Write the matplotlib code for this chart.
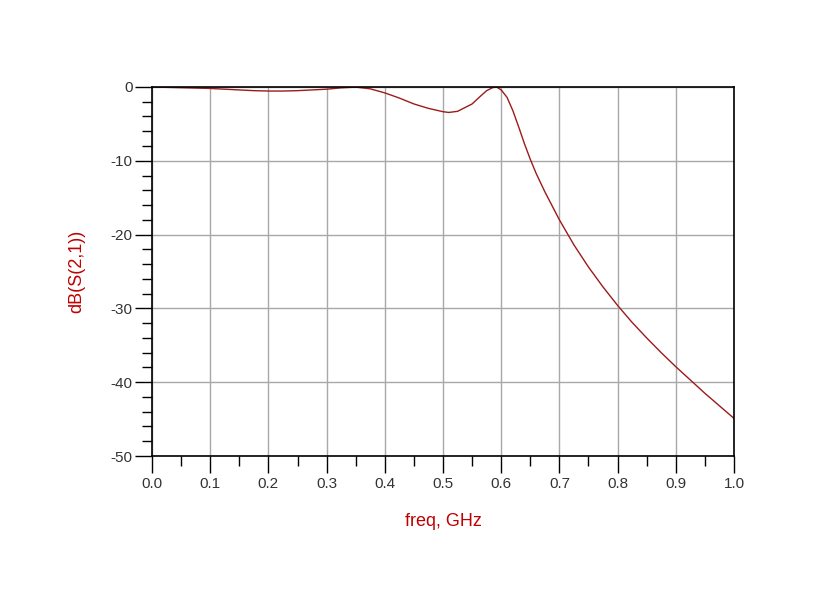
import numpy as np
import matplotlib.pyplot as plt
from matplotlib.ticker import MultipleLocator

# values
freq = [0.000, 0.025, 0.050, 0.075, 0.100, 0.125, 0.150, 0.175, 0.200, 0.225,
        0.250, 0.275, 0.300, 0.325, 0.350, 0.375, 0.400, 0.425, 0.450, 0.475,
        0.500, 0.510, 0.525, 0.550, 0.565, 0.575, 0.585, 0.592, 0.600, 0.610,
        0.620, 0.630, 0.640, 0.650, 0.660, 0.675, 0.700, 0.725, 0.750, 0.775,
        0.800, 0.825, 0.850, 0.875, 0.900, 0.925, 0.950, 0.975, 1.000]
s21_db = [0.0, -0.05, -0.1, -0.15, -0.2, -0.3, -0.4, -0.5, -0.55, -0.55,
          -0.5, -0.4, -0.3, -0.12, -0.02, -0.25, -0.8, -1.5, -2.3, -2.9,
          -3.35, -3.45, -3.3, -2.3, -1.2, -0.5, -0.1, 0.0, -0.4, -1.4,
          -3.2, -5.4, -7.7, -9.8, -11.7, -14.2, -18.0, -21.4, -24.4, -27.1,
          -29.6, -31.9, -34.0, -36.0, -37.9, -39.7, -41.5, -43.2, -44.9]

plt.rcParams['font.family'] = ['Liberation Sans', 'DejaVu Sans']
plt.rcParams['axes.unicode_minus'] = False

fig = plt.figure(figsize=(8.19, 6.04), dpi=100)
ax = fig.add_axes([0.1856, 0.245, 0.7106, 0.611])

ax.plot(freq, s21_db, color="#9b1b1b", linewidth=1.0)

ax.set_xlim(0, 1.0)
ax.set_ylim(-50, 0)
ax.xaxis.set_major_locator(MultipleLocator(0.1))
ax.xaxis.set_minor_locator(MultipleLocator(0.05))
ax.yaxis.set_major_locator(MultipleLocator(10))
ax.yaxis.set_minor_locator(MultipleLocator(2))
ax.set_xticklabels([f"{v:.1f}" for v in ax.get_xticks()])

ax.grid(True, which="major", color="#a8a8a8", linewidth=1.0)
ax.tick_params(which="major", length=12, width=1.0, color="black",
               labelsize=11, labelcolor="#333333")
ax.tick_params(which="minor", length=7, width=1.0, color="black")
ax.tick_params(axis="x", pad=3)
ax.tick_params(axis="y", pad=2)
for sp in ax.spines.values():
    sp.set_linewidth(1.2)
    sp.set_color("black")

ax.set_xlabel("freq, GHz", color="#c00000", fontsize=13, labelpad=16)
ax.set_ylabel("dB(S(2,1))", color="#c00000", fontsize=13, labelpad=18)

fig.savefig("out.png", dpi=100)
